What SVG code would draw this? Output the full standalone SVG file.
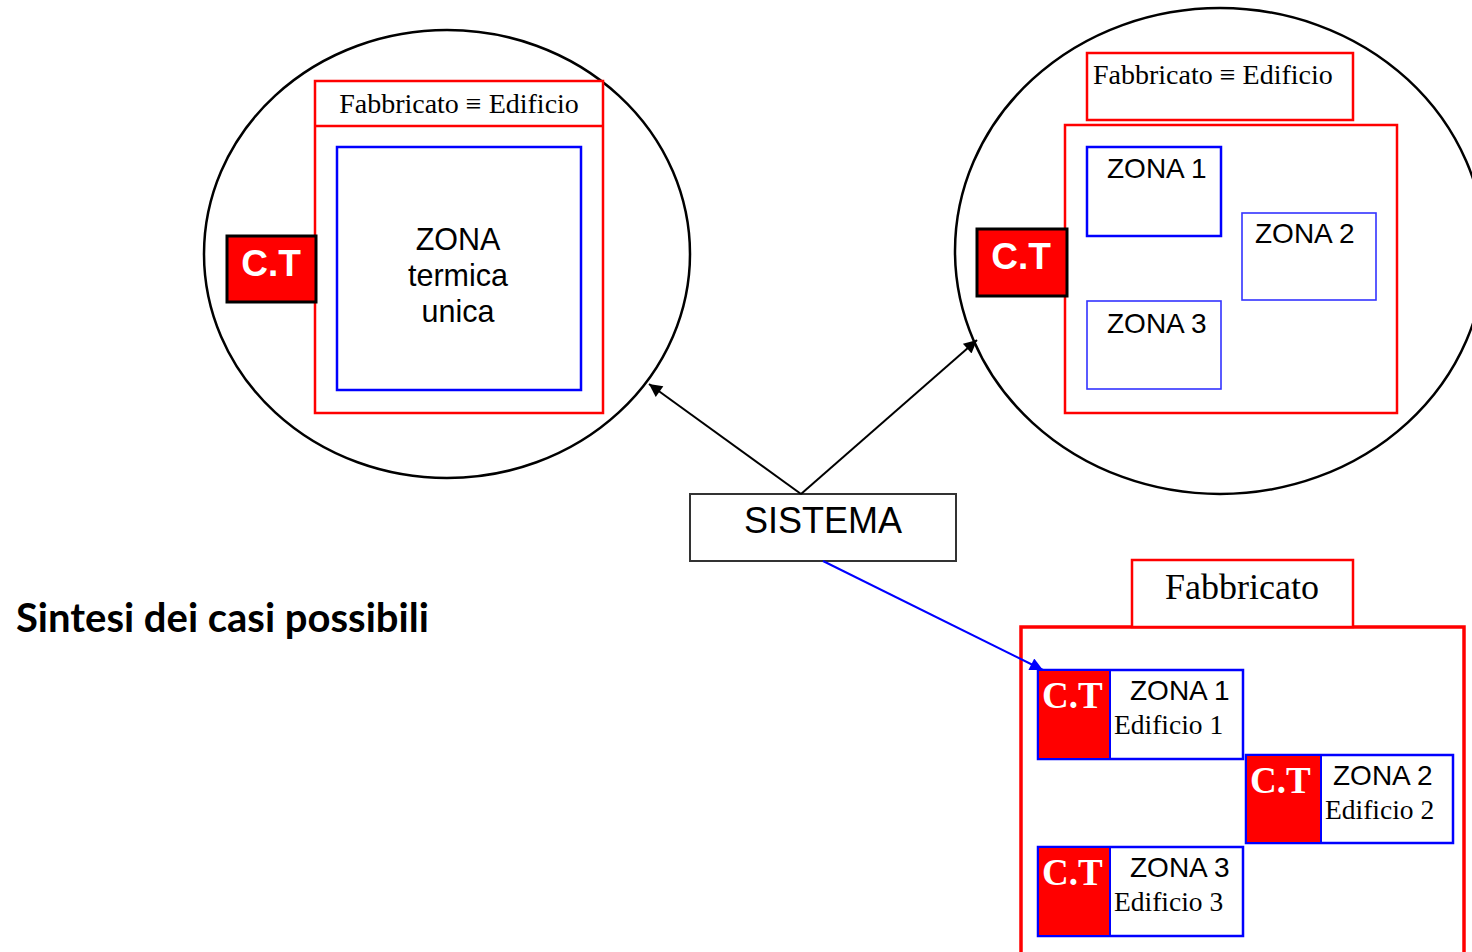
<svg xmlns="http://www.w3.org/2000/svg" width="1472" height="952" viewBox="0 0 1472 952">
  <style>
    .circle { fill: none; stroke: #000; stroke-width: 2.5; }
    .red { fill: #fff; stroke: #ff0000; stroke-width: 2.5; }
    .redThick { fill: #fff; stroke: #ff0000; stroke-width: 3.5; }
    .blue { fill: #fff; stroke: #0000ff; stroke-width: 2.5; }
    .blueThin { fill: #fff; stroke: #3333ff; stroke-width: 1.6; }
    .ct { fill: #ff0000; stroke: #000; stroke-width: 3; }
    .ctFill { fill: #ff0000; stroke: #0000ff; stroke-width: 2; }
    .ctText { font-family: "Liberation Sans", Arial, sans-serif; font-weight: bold; font-size: 37px; fill: #fff; }
    .ctSerif { font-family: "Liberation Serif", "Times New Roman", serif; font-weight: bold; font-size: 37px; fill: #fff; }
    .serif { font-family: "Liberation Serif", "Times New Roman", serif; fill: #000; }
    .sans { font-family: "Liberation Sans", Arial, sans-serif; fill: #000; }
    .conn { stroke: #000; stroke-width: 2; fill: none; }
    .connBlue { stroke: #0000ff; stroke-width: 2; fill: none; }
  </style>
  <defs>
    <marker id="arrowBlack" viewBox="0 0 10 10" refX="10" refY="5" markerWidth="15" markerHeight="13" markerUnits="userSpaceOnUse" orient="auto">
      <path d="M0,0 L10,5 L0,10 z" fill="#000"/>
    </marker>
    <marker id="arrowBlue" viewBox="0 0 10 10" refX="10" refY="5" markerWidth="15" markerHeight="13" markerUnits="userSpaceOnUse" orient="auto">
      <path d="M0,0 L10,5 L0,10 z" fill="#0000ff"/>
    </marker>
  </defs>

  <rect width="1472" height="952" fill="#fff"/>

  <!-- Case 1: single building, single thermal zone -->
  <g id="case-single-zone">
    <ellipse class="circle" cx="447" cy="254" rx="243" ry="224"/>
    <rect class="red" x="315" y="81" width="288" height="332"/>
    <line x1="315" y1="126" x2="603" y2="126" stroke="#ff0000" stroke-width="2.5"/>
    <text class="serif" x="459" y="113" font-size="28" text-anchor="middle">Fabbricato ≡ Edificio</text>
    <rect class="blue" x="337" y="147" width="244" height="243"/>
    <text class="sans" x="458" y="250" font-size="30.5" text-anchor="middle">ZONA</text>
    <text class="sans" x="458" y="286" font-size="30.5" text-anchor="middle">termica</text>
    <text class="sans" x="458" y="322" font-size="30.5" text-anchor="middle">unica</text>
    <rect class="ct" x="227" y="236" width="89" height="66"/>
    <text class="ctText" x="271" y="276" text-anchor="middle">C.T</text>
  </g>

  <!-- Case 2: single building, multiple zones -->
  <g id="case-multi-zone">
    <ellipse class="circle" cx="1220" cy="251" rx="265" ry="243"/>
    <rect class="red" x="1087" y="53" width="266" height="67"/>
    <text class="serif" x="1093" y="84" font-size="28">Fabbricato ≡ Edificio</text>
    <rect class="red" x="1065" y="125" width="332" height="288"/>
    <rect class="blue" x="1087" y="147" width="134" height="89"/>
    <text class="sans" x="1107" y="178" font-size="28">ZONA 1</text>
    <rect class="blueThin" x="1242" y="213" width="134" height="87"/>
    <text class="sans" x="1255" y="243" font-size="28">ZONA 2</text>
    <rect class="blueThin" x="1087" y="301" width="134" height="88"/>
    <text class="sans" x="1107" y="333" font-size="28">ZONA 3</text>
    <rect class="ct" x="977" y="229" width="90" height="67"/>
    <text class="ctText" x="1021" y="269" text-anchor="middle">C.T</text>
  </g>

  <!-- System -->
  <g id="sistema">
    <rect x="690" y="494" width="266" height="67" fill="#fff" stroke="#333" stroke-width="2"/>
    <text class="sans" x="823" y="533" font-size="36" text-anchor="middle">SISTEMA</text>
  </g>

  <!-- Case 3: building with several edifices, each with own plant -->
  <g id="case-multi-building">
    <rect class="redThick" x="1021" y="627" width="443" height="340"/>
    <rect class="red" x="1132" y="560" width="221" height="67" stroke-width="2"/>
    <text class="serif" x="1242" y="599" font-size="36" text-anchor="middle">Fabbricato</text>
  </g>

  <g id="edificio-1">
    <rect class="blue" x="1038" y="670" width="205" height="89"/>
    <rect class="ctFill" x="1038" y="670" width="72" height="89"/>
    <text class="ctSerif" x="1042" y="708">C.T</text>
    <text class="sans" x="1130" y="700" font-size="28">ZONA 1</text>
    <text class="serif" x="1114" y="734" font-size="27.5">Edificio 1</text>
  </g>

  <g id="edificio-2">
    <rect class="blue" x="1246" y="755" width="207" height="88" stroke-width="2"/>
    <rect class="ctFill" x="1246" y="755" width="75" height="88"/>
    <text class="ctSerif" x="1250" y="793">C.T</text>
    <text class="sans" x="1333" y="785" font-size="28">ZONA 2</text>
    <text class="serif" x="1325" y="819" font-size="27.5">Edificio 2</text>
  </g>

  <g id="edificio-3">
    <rect class="blue" x="1038" y="847" width="205" height="89" stroke-width="2"/>
    <rect class="ctFill" x="1038" y="847" width="72" height="89"/>
    <text class="ctSerif" x="1042" y="885">C.T</text>
    <text class="sans" x="1130" y="877" font-size="28">ZONA 3</text>
    <text class="serif" x="1114" y="911" font-size="27.5">Edificio 3</text>
  </g>

  <!-- Connectors -->
  <g id="connectors">
    <line class="conn" x1="801" y1="494" x2="649" y2="384" marker-end="url(#arrowBlack)"/>
    <line class="conn" x1="801" y1="494" x2="977" y2="340" marker-end="url(#arrowBlack)"/>
    <line class="connBlue" x1="823" y1="561" x2="1043" y2="670" marker-end="url(#arrowBlue)"/>
  </g>

  <text id="title" x="16" y="632" font-family="Lato, 'Open Sans', sans-serif" font-weight="bold" font-size="40" fill="#000">Sintesi dei casi possibili</text>
</svg>
